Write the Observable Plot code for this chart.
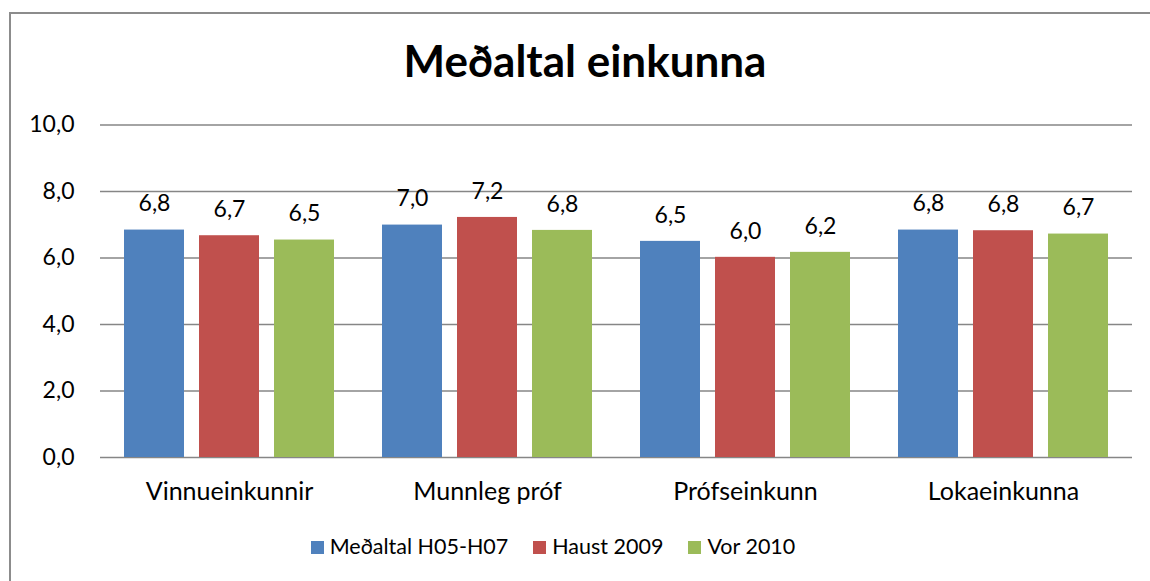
<!DOCTYPE html>
<html>
<head>
<meta charset="utf-8">
<script src="https://cdn.jsdelivr.net/npm/d3@7"></script>
<script src="https://cdn.jsdelivr.net/npm/@observablehq/plot@0.6"></script>
<style>
  html, body { margin: 0; padding: 0; background: #fff; }
  #wrap { position: relative; width: 1150px; height: 581px; overflow: hidden; font-family: Lato, sans-serif; color: #000; }
  #frame { position: absolute; left: 9px; top: 12px; width: 1300px; height: 800px; border-left: 2px solid #8c8c8c; border-top: 2px solid #8c8c8c; }
  #title { position: absolute; left: 0; top: 34px; width: 1170px; text-align: center; font-size: 44px; font-weight: bold; line-height: 1.2; }
  #chart { position: absolute; left: 0; top: 100px; }
  #legend { position: absolute; left: 0; top: 534px; width: 1106px; display: flex; justify-content: center; gap: 25px; font-size: 21.5px; line-height: 1.2; }
  .item { display: flex; align-items: center; }
  .sw { width: 13px; height: 13px; margin-right: 6px; margin-top: 1px; }
</style>
</head>
<body>
<div id="wrap">
  <div id="frame"></div>
  <div id="title">Meðaltal einkunna</div>
  <div id="chart"></div>
  <div id="legend"></div>
</div>
<script>
const categories = ["Vinnueinkunnir", "Munnleg próf", "Prófseinkunn", "Lokaeinkunna"];
const series = ["Meðaltal H05-H07", "Haust 2009", "Vor 2010"];
const colors = ["#4F81BD", "#C0504D", "#9BBB59"];
const valuesH05H07 = [6.84, 6.99, 6.50, 6.84];
const valuesHaust2009 = [6.67, 7.22, 6.02, 6.82];
const valuesVor2010 = [6.54, 6.83, 6.17, 6.72];
const yTicks = [0, 2, 4, 6, 8, 10];

const seriesValues = [valuesH05H07, valuesHaust2009, valuesVor2010];
const data = [];
categories.forEach((c, i) => {
  series.forEach((s, j) => {
    data.push({category: c, series: s, value: seriesValues[j][i]});
  });
});
const fmt = d => d.toFixed(1).replace(".", ",");

const chart = Plot.plot({
  width: 1150,
  height: 420,
  marginLeft: 99,
  marginRight: 17,
  marginTop: 24.5,
  marginBottom: 63,
  style: {fontFamily: "Lato, sans-serif", fontSize: "23px", color: "#000", background: "transparent"},
  fx: {domain: categories, padding: 0, label: null},
  x: {domain: series, axis: null, paddingInner: 0.2, paddingOuter: 0.3},
  y: {domain: [0, 10], label: null},
  color: {domain: series, range: colors},
  marks: [
    Plot.ruleY(yTicks, {stroke: "#868686", strokeWidth: 1.4}),
    Plot.axisY(yTicks, {tickFormat: fmt, tickSize: 0, tickPadding: 26, label: null, fontSize: 23}),
    Plot.axisFx({anchor: "bottom", tickSize: 0, tickPadding: 25, label: null, fontSize: 25}),
    Plot.barY(data, {fx: "category", x: "series", y: "value", fill: "series"}),
    Plot.text(data, {fx: "category", x: "series", y: "value", text: d => fmt(d.value), dy: -26, fill: "#000", fontSize: 23})
  ]
});
document.getElementById("chart").appendChild(chart);

const legend = document.getElementById("legend");
series.forEach((s, j) => {
  const item = document.createElement("div");
  item.className = "item";
  const sw = document.createElement("div");
  sw.className = "sw";
  sw.style.background = colors[j];
  const t = document.createElement("span");
  t.textContent = s;
  item.appendChild(sw);
  item.appendChild(t);
  legend.appendChild(item);
});
</script>
</body>
</html>
